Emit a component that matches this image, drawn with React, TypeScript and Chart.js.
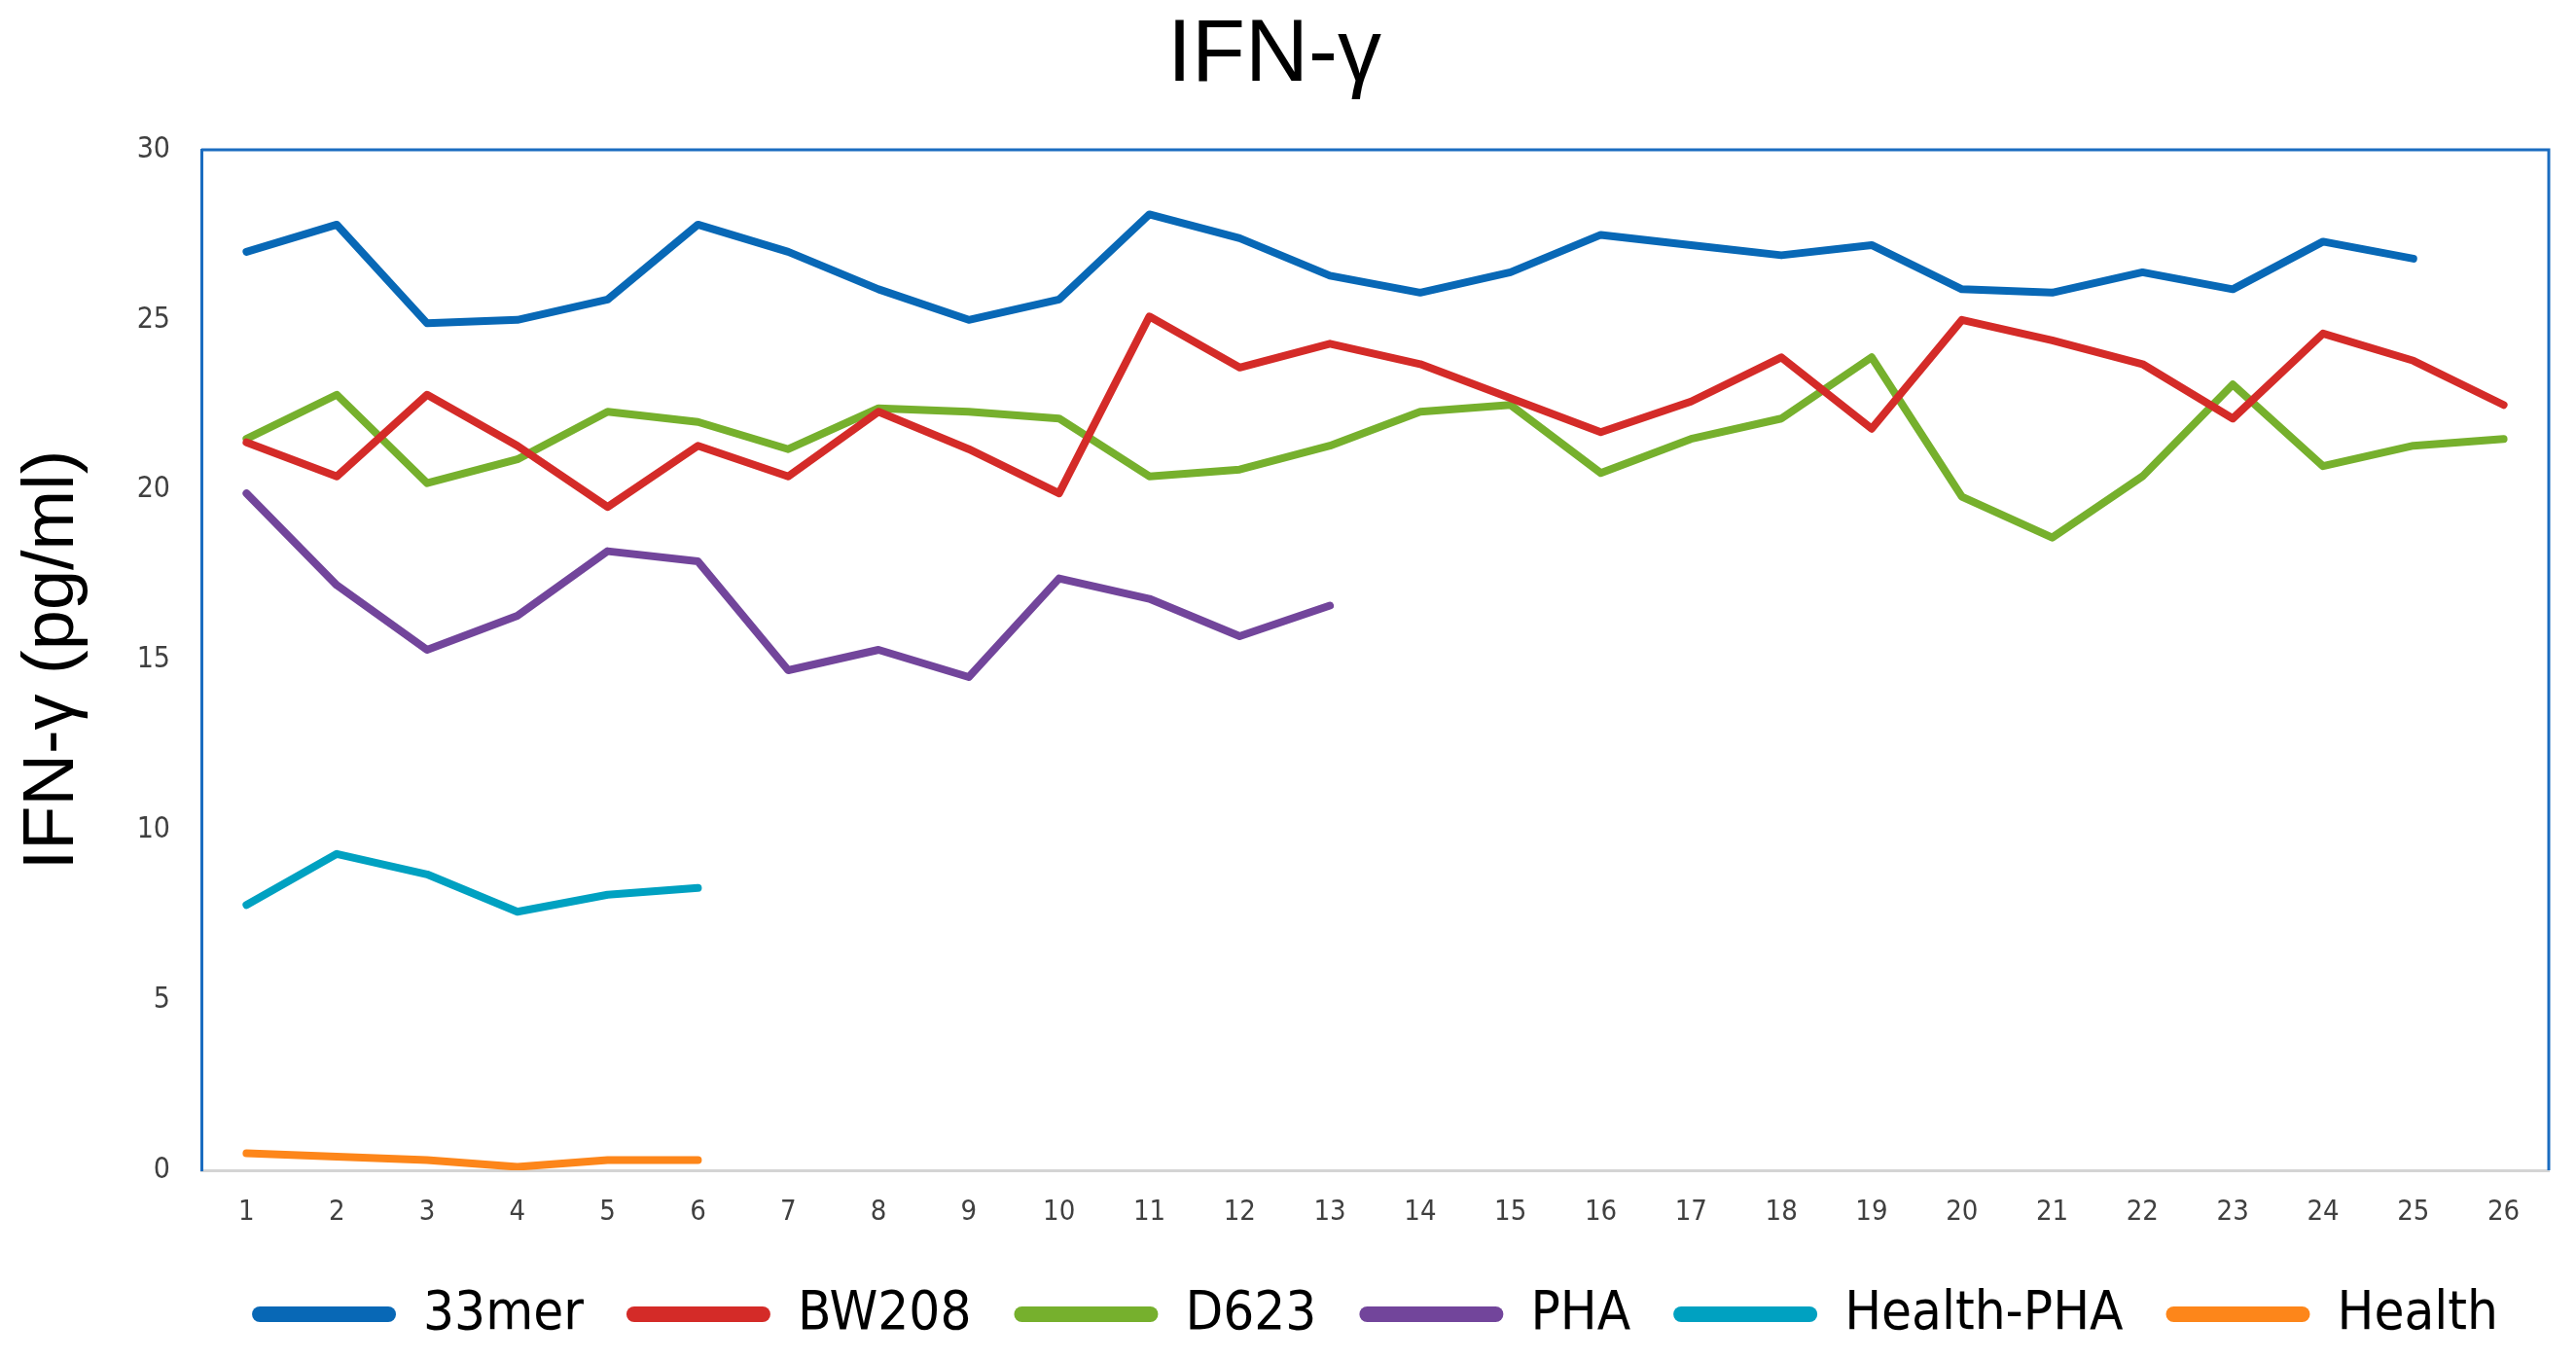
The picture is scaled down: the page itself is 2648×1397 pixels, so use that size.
import { useEffect, useRef } from "react";
import { Chart, registerables } from "chart.js";

Chart.register(...registerables);

const days = Array.from({ length: 26 }, (_, i) => String(i + 1));

const mer33 = [27.0, 27.8, 24.9, 25.0, 25.6, 27.8, 27.0, 25.9, 25.0, 25.6, 28.1, 27.4, 26.3, 25.8, 26.4, 27.5, 27.2, 26.9, 27.2, 25.9, 25.8, 26.4, 25.9, 27.3, 26.8];
const bw208 = [21.4, 20.4, 22.8, 21.3, 19.5, 21.3, 20.4, 22.3, 21.2, 19.9, 25.1, 23.6, 24.3, 23.7, 22.7, 21.7, 22.6, 23.9, 21.8, 25.0, 24.4, 23.7, 22.1, 24.6, 23.8, 22.5];
const d623 = [21.5, 22.8, 20.2, 20.9, 22.3, 22.0, 21.2, 22.4, 22.3, 22.1, 20.4, 20.6, 21.3, 22.3, 22.5, 20.5, 21.5, 22.1, 23.9, 19.8, 18.6, 20.4, 23.1, 20.7, 21.3, 21.5];
const pha = [19.9, 17.2, 15.3, 16.3, 18.2, 17.9, 14.7, 15.3, 14.5, 17.4, 16.8, 15.7, 16.6];
const healthPha = [7.8, 9.3, 8.7, 7.6, 8.1, 8.3];
const health = [0.5, 0.4, 0.3, 0.1, 0.3, 0.3];

const seriesNames = ["33mer", "BW208", "D623", "PHA", "Health-PHA", "Health"];
const seriesColors = ["#0868b6", "#d42b28", "#76b02d", "#72459b", "#00a1c1", "#fd861a"];

const FRAME_BLUE = "#1b6cc0";
const NARROW = "'Liberation Sans Narrow', 'DejaVu Sans Condensed', 'Open Sans', sans-serif";
const SANS = "'Liberation Sans', Arial, sans-serif";

// top + right edges of the plot box
const framePlugin = {
  id: "frame",
  beforeDatasetsDraw(chart: Chart) {
    const { ctx, chartArea: a } = chart;
    ctx.save();
    ctx.strokeStyle = FRAME_BLUE;
    ctx.lineWidth = 3;
    ctx.beginPath();
    ctx.moveTo(a.left, a.top);
    ctx.lineTo(a.right, a.top);
    ctx.lineTo(a.right, a.bottom);
    ctx.stroke();
    ctx.restore();
  },
};

export default function App() {
  const canvasRef = useRef<HTMLCanvasElement | null>(null);
  const chartRef = useRef<Chart | null>(null);

  useEffect(() => {
    document.body.style.margin = "0";
    if (!canvasRef.current) return;
    chartRef.current?.destroy();

    const values = [mer33, bw208, d623, pha, healthPha, health];

    chartRef.current = new Chart(canvasRef.current, {
      type: "line",
      data: {
        labels: days,
        datasets: values.map((data, i) => ({
          label: seriesNames[i],
          data,
          borderColor: seriesColors[i],
          backgroundColor: seriesColors[i],
          borderWidth: 8,
          borderCapStyle: "round",
          borderJoinStyle: "round",
          pointRadius: 0,
          tension: 0,
        })),
      },
      options: {
        animation: false,
        responsive: true,
        maintainAspectRatio: false,
        layout: { padding: { top: 0, right: 28, bottom: 8, left: 0 } },
        plugins: {
          title: {
            display: true,
            text: "IFN-γ",
            color: "#000",
            font: { family: SANS, size: 90, weight: "normal" },
            padding: { top: 4, bottom: 42 },
          },
          legend: {
            position: "bottom",
            fullSize: false,
            labels: {
              color: "#000",
              font: { family: NARROW, size: 56 },
              boxWidth: 148,
              boxHeight: 16,
              padding: 44,
              useBorderRadius: true,
              borderRadius: 8,
              generateLabels: (chart: Chart) =>
                Chart.defaults.plugins.legend.labels
                  .generateLabels(chart)
                  .map((l: any) => ({ ...l, lineWidth: 0 })),
            },
          },
          tooltip: { enabled: false },
        },
        scales: {
          x: {
            offset: true,
            grid: { display: false, drawTicks: false },
            border: { display: true, color: "#d4d4d4", width: 3 },
            ticks: { color: "#404040", font: { family: NARROW, size: 29 }, padding: 26 },
            afterFit: (s: any) => {
              s.height = 76;
            },
          },
          y: {
            min: 0,
            max: 30,
            grid: { display: false, drawTicks: false },
            border: { display: true, color: FRAME_BLUE, width: 3 },
            ticks: { stepSize: 5, color: "#404040", font: { family: NARROW, size: 30 }, padding: 32 },
            title: {
              display: true,
              text: "IFN-γ (pg/ml)",
              color: "#000",
              font: { family: SANS, size: 74 },
              padding: { top: 10, bottom: 0 },
            },
            afterFit: (s: any) => {
              s.width = 207;
            },
          },
        },
      },
      plugins: [framePlugin],
    });

    return () => {
      chartRef.current?.destroy();
      chartRef.current = null;
    };
  }, []);

  return (
    <div style={{ width: "2648px", height: "1397px", position: "relative" }}>
      <canvas ref={canvasRef}></canvas>
    </div>
  );
}
